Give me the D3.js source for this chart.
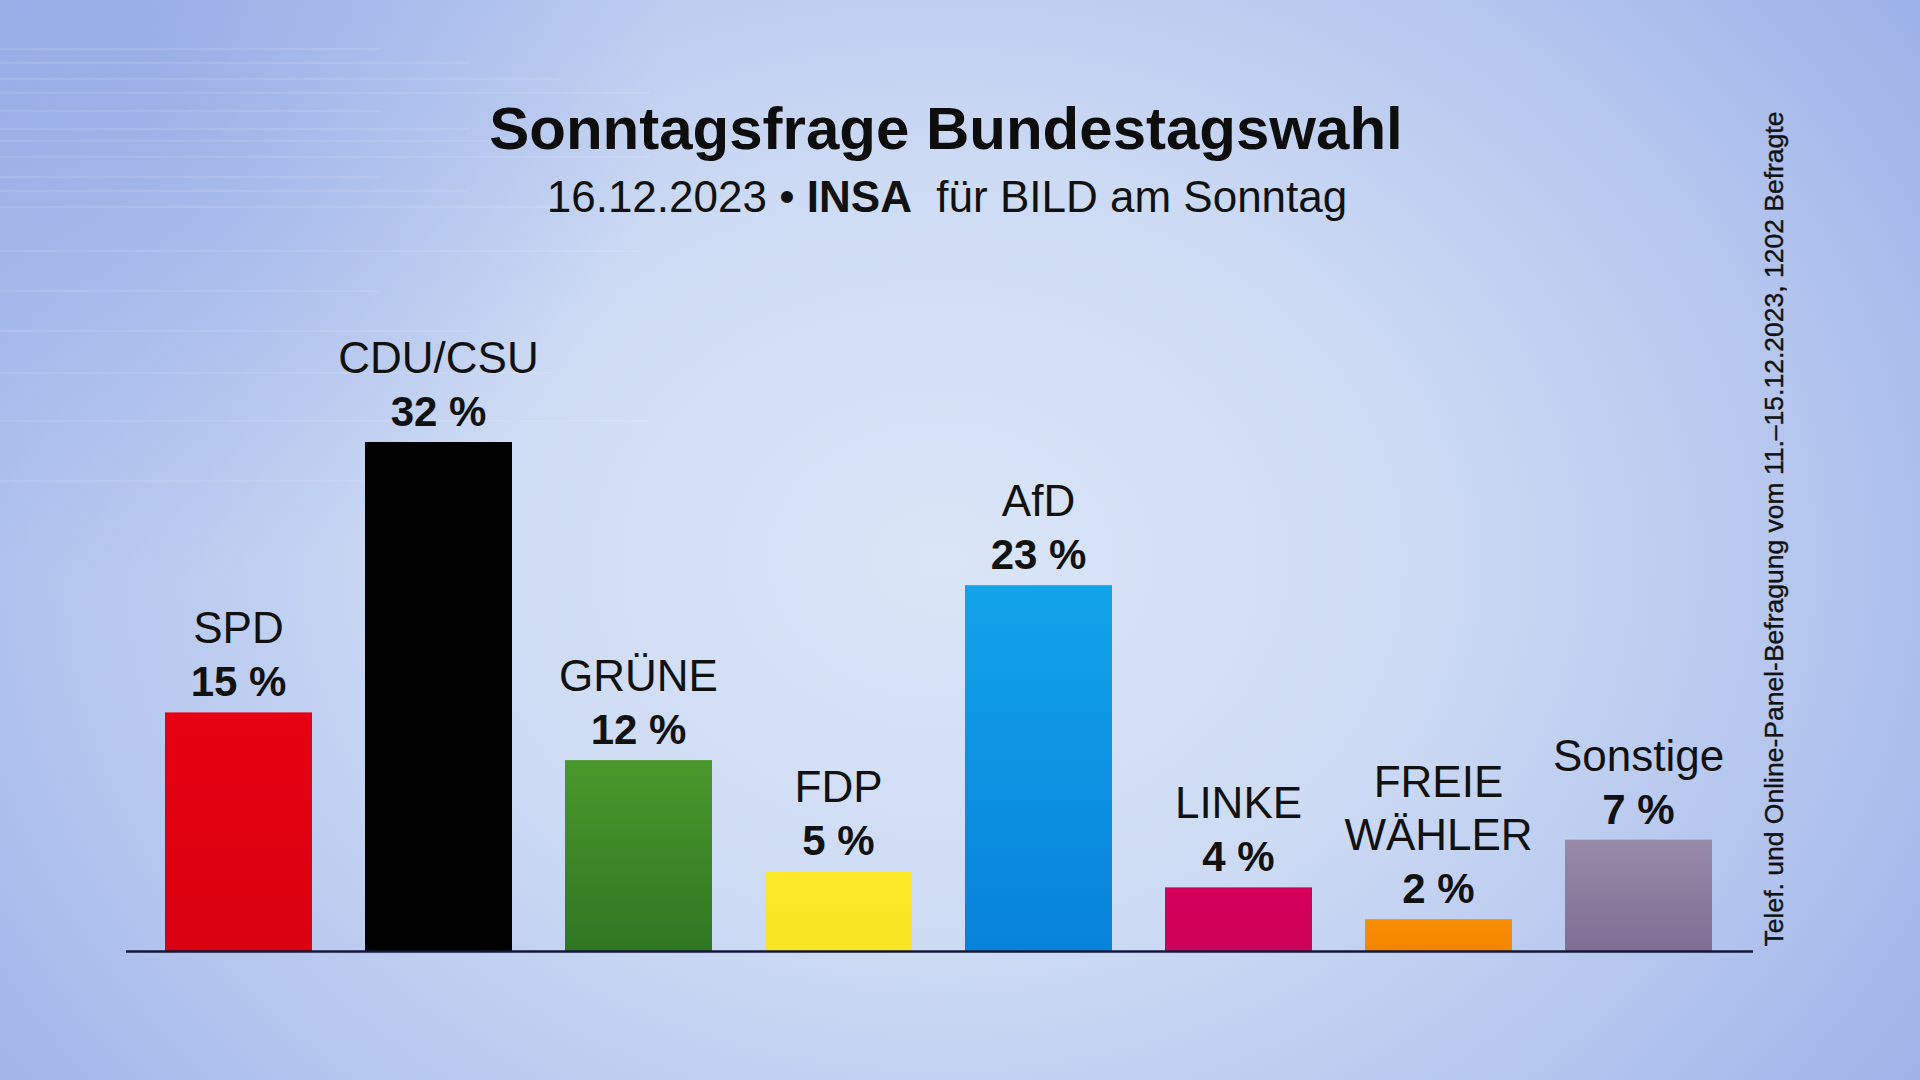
<!DOCTYPE html>
<html>
<head>
<meta charset="utf-8">
<script src="https://cdn.jsdelivr.net/npm/d3@7"></script>
<style>
html,body{margin:0;padding:0;overflow:hidden;background:#c5d3f0;}
svg{display:block;font-family:"Liberation Sans",Arial,Helvetica,sans-serif;}
</style>
</head>
<body>
<svg id="chart" width="1920" height="1080"></svg>
<script>
// ---- data ----
const parties = ["SPD", "CDU/CSU", "GRÜNE", "FDP", "AfD", "LINKE", "FREIE WÄHLER", "Sonstige"];
const nameLines = [["SPD"], ["CDU/CSU"], ["GRÜNE"], ["FDP"], ["AfD"], ["LINKE"], ["FREIE", "WÄHLER"], ["Sonstige"]];
const values = [15, 32, 12, 5, 23, 4, 2, 7];
const colorsTop = ["#e60012", "#000000", "#4a982b", "#fde92a", "#12a3ea", "#d6005c", "#f88d00", "#978aa8"];
const colorsBottom = ["#d9000f", "#000000", "#2f7623", "#f9e423", "#0782da", "#cc0057", "#f58500", "#806d94"];
const title = "Sonntagsfrage Bundestagswahl";
const subtitleParts = [["16.12.2023 • ", "normal"], ["INSA", "bold"], ["  für BILD am Sonntag", "normal"]];
const sideNote = "Telef. und Online-Panel-Befragung vom 11.–15.12.2023, 1202 Befragte";

const W = 1920, H = 1080;
const svg = d3.select("#chart");
const defs = svg.append("defs");

// background
const bg = defs.append("radialGradient").attr("id", "bg")
  .attr("gradientUnits", "userSpaceOnUse")
  .attr("cx", 940).attr("cy", 560).attr("r", 1200)
  .attr("gradientTransform", "translate(940,560) scale(1,0.8) translate(-940,-560)");
bg.append("stop").attr("offset", 0).attr("stop-color", "#dae5f7");
bg.append("stop").attr("offset", 0.4).attr("stop-color", "#cddbf4");
bg.append("stop").attr("offset", 0.75).attr("stop-color", "#b3c4ee");
bg.append("stop").attr("offset", 1).attr("stop-color", "#9cb1e8");
svg.append("rect").attr("width", W).attr("height", H).attr("fill", "url(#bg)");

// top-left darker haze
const tl = defs.append("radialGradient").attr("id", "tl")
  .attr("gradientUnits", "userSpaceOnUse").attr("cx", 150).attr("cy", 60).attr("r", 520);
tl.append("stop").attr("offset", 0).attr("stop-color", "#8ea4e4").attr("stop-opacity", 0.55);
tl.append("stop").attr("offset", 1).attr("stop-color", "#8ea4e4").attr("stop-opacity", 0);
svg.append("rect").attr("width", W).attr("height", H).attr("fill", "url(#tl)");

// faint horizontal streaks (texture)
const streakY = [48, 62, 78, 92, 110, 128, 140, 156, 176, 190, 206, 250, 290, 330, 372, 420, 480];
svg.append("g").selectAll("rect").data(streakY).join("rect")
  .attr("x", 0).attr("y", d => d).attr("width", (d, i) => 380 + (i % 4) * 90).attr("height", 2)
  .attr("fill", "#ffffff").attr("opacity", 0.1);

// gradients for bars
parties.forEach((p, i) => {
  const g = defs.append("linearGradient").attr("id", "g" + i).attr("x1", 0).attr("y1", 0).attr("x2", 0).attr("y2", 1);
  g.append("stop").attr("offset", 0).attr("stop-color", colorsTop[i]);
  g.append("stop").attr("offset", 1).attr("stop-color", colorsBottom[i]);
});

// scales
const x = d3.scaleBand().domain(parties).range([138.5, 1738.5]).paddingInner(0.265).paddingOuter(0.1325);
const y = d3.scaleLinear().domain([0, 32]).range([951, 442]);

const data = parties.map((p, i) => ({p, v: values[i], lines: nameLines[i], i}));

// bars
svg.append("g").selectAll("rect").data(data).join("rect")
  .attr("x", d => x(d.p)).attr("width", x.bandwidth())
  .attr("y", d => y(d.v)).attr("height", d => y(0) - y(d.v))
  .attr("fill", d => `url(#g${d.i})`);

// baseline
svg.append("line").attr("x1", 126).attr("x2", 1753).attr("y1", y(0) + 0.5).attr("y2", y(0) + 0.5)
  .attr("stroke", "#15163a").attr("stroke-width", 2.5);

// labels
const lab = svg.append("g").selectAll("g").data(data).join("g")
  .attr("transform", d => `translate(${x(d.p) + x.bandwidth() / 2},${y(d.v) - 16})`);
lab.append("text").attr("text-anchor", "middle").attr("font-size", 42).attr("font-weight", "bold")
  .attr("fill", "#111").text(d => d.v + " %");
lab.each(function(d) {
  const n = d.lines.length;
  d3.select(this).selectAll("text.name").data(d.lines).join("text").attr("class", "name")
    .attr("text-anchor", "middle").attr("font-size", 44).attr("fill", "#111")
    .attr("y", (t, k) => -53 * (n - k)).text(t => t);
});

// title
svg.append("text").attr("x", 946).attr("y", 149).attr("text-anchor", "middle")
  .attr("font-size", 60).attr("font-weight", "bold").attr("fill", "#0d0d0d").text(title);
const sub = svg.append("text").attr("x", 947).attr("y", 212).attr("text-anchor", "middle")
  .attr("font-size", 44).attr("fill", "#111").attr("xml:space", "preserve").style("white-space", "pre");
sub.selectAll("tspan").data(subtitleParts).join("tspan")
  .attr("font-weight", d => d[1]).text(d => d[0]);

// side note
svg.append("text").attr("transform", "translate(1783,529) rotate(-90)")
  .attr("text-anchor", "middle").attr("font-size", 26.5).attr("fill", "#111")
  .attr("stroke", "#111").attr("stroke-width", 0.4)
  .text(sideNote);
</script>
</body>
</html>
